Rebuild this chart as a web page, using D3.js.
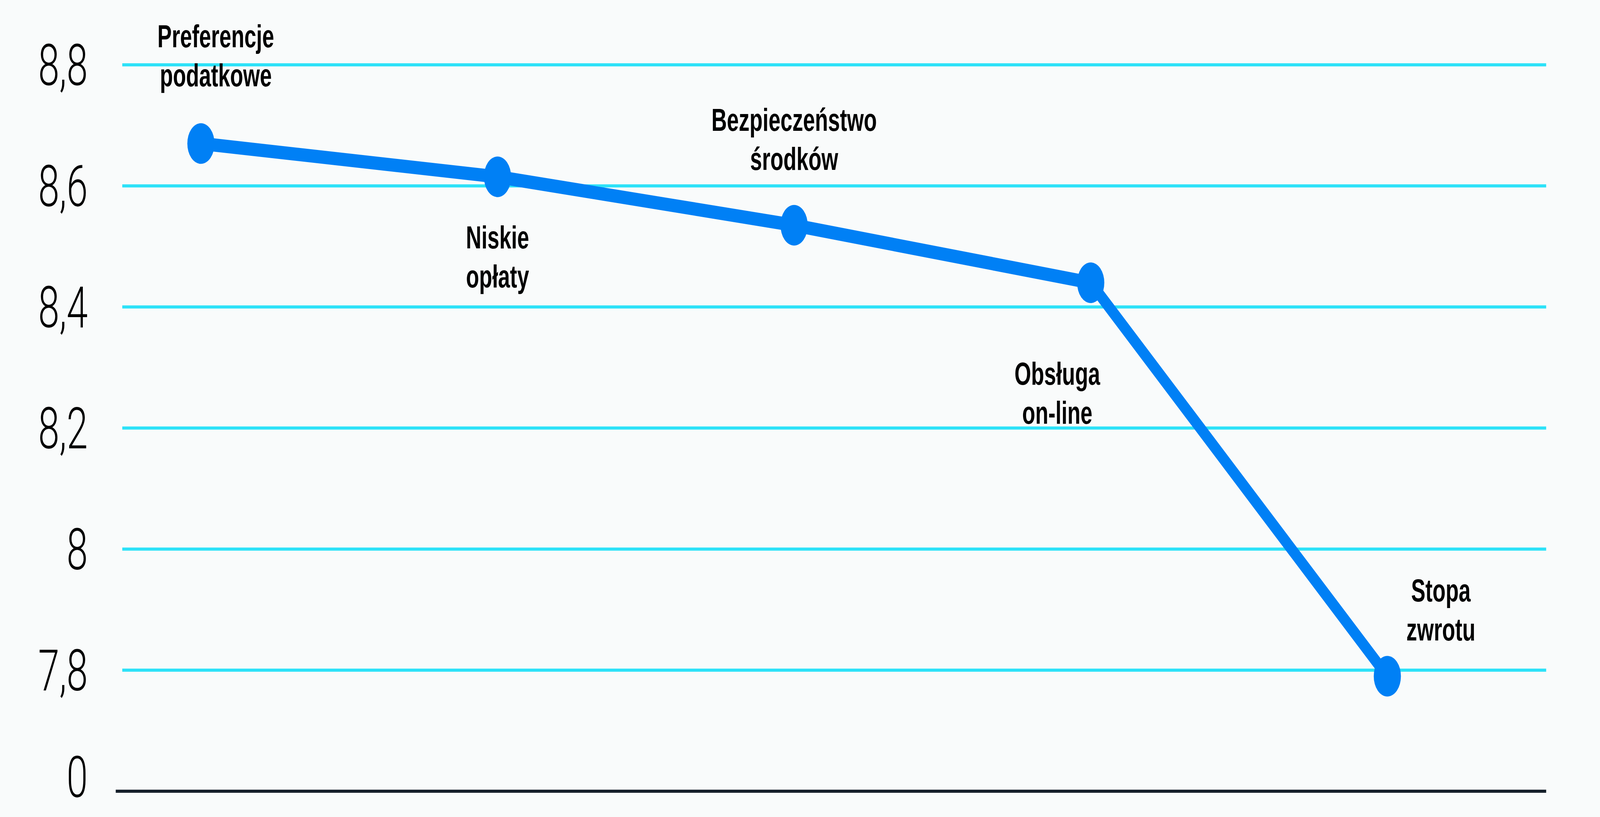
<!DOCTYPE html>
<html>
<head>
<meta charset="utf-8">
<script src="https://cdn.jsdelivr.net/npm/d3@7"></script>
<style>
  html, body { margin: 0; padding: 0; background: #F9FBFB; overflow: hidden; }
  svg { display: block; }
</style>
</head>
<body>
<script>
// ---- data ----
const categories = [
  ["Preferencje", "podatkowe"],
  ["Niskie", "opłaty"],
  ["Bezpieczeństwo", "środków"],
  ["Obsługa", "on-line"],
  ["Stopa", "zwrotu"]
];
const values = [8.67, 8.615, 8.535, 8.44, 7.79];
const tickValues = [7.6, 7.8, 8.0, 8.2, 8.4, 8.6, 8.8];
const tickLabels = ["0", "7,8", "8", "8,2", "8,4", "8,6", "8,8"];

// ---- layout (in reference pixel units; scaled to the window via viewBox) ----
const W = 6124, H = 2092;
const gridLeft = 468, gridRight = 5918, baseLeft = 443;
const yTop = 166, yBottom = 2026;
const xFirst = 769, xLast = 5310;
const labelOffsets = [[57, -246], [0, 183], [0, -242], [-128, 261], [205, -191]];
const lineGap = 100;

const svg = d3.select("body").append("svg")
  .attr("width", window.innerWidth).attr("height", window.innerHeight)
  .attr("viewBox", `0 0 ${W} ${H}`)
  .attr("preserveAspectRatio", "none");

svg.append("rect").attr("width", W).attr("height", H).attr("fill", "#F9FBFB");

const x = d3.scalePoint().domain(d3.range(categories.length)).range([xFirst, xLast]);
const y = d3.scaleLinear().domain([7.6, 8.8]).range([yBottom, yTop]);

// gridlines
svg.append("g").selectAll("line")
  .data(tickValues.slice(1))
  .join("line")
  .attr("x1", gridLeft).attr("x2", gridRight)
  .attr("y1", d => y(d)).attr("y2", d => y(d))
  .attr("stroke", "#2EE2F8").attr("stroke-width", 8);

// baseline
svg.append("line")
  .attr("x1", baseLeft).attr("x2", gridRight)
  .attr("y1", y(tickValues[0])).attr("y2", y(tickValues[0]))
  .attr("stroke", "#16202A").attr("stroke-width", 8);

// y axis labels
const yAxis = d3.axisLeft(y)
  .tickValues(tickValues)
  .tickFormat((d, i) => tickLabels[i])
  .tickSize(0).tickPadding(0);
const ag = svg.append("g").attr("transform", "translate(336,0)").call(yAxis);
ag.select(".domain").remove();
ag.selectAll("text")
  .attr("font-family", "Roboto, 'Helvetica Neue', Lato, sans-serif")
  .attr("font-weight", 300)
  .attr("font-size", 146)
  .attr("fill", "#000")
  .attr("dy", (d, i) => i === 0 ? "0.1em" : "0.35em");

// line
const line = d3.line().x((d, i) => x(i)).y(d => y(d));
svg.append("path")
  .datum(values)
  .attr("d", line)
  .attr("fill", "none")
  .attr("stroke", "#0080F5")
  .attr("stroke-width", 34)
  .attr("stroke-linejoin", "round")
  .attr("stroke-linecap", "round");

// points
svg.append("g").selectAll("circle")
  .data(values)
  .join("circle")
  .attr("cx", (d, i) => x(i))
  .attr("cy", d => y(d))
  .attr("r", 52)
  .attr("fill", "#0080F5");

// category labels
const lg = svg.append("g")
  .attr("font-family", "'Liberation Sans', Arial, Helvetica, sans-serif")
  .attr("font-weight", "bold")
  .attr("font-size", 82)
  .attr("fill", "#000")
  .attr("text-anchor", "middle");
categories.forEach((lines, i) => {
  const t = lg.append("text")
    .attr("x", x(i) + labelOffsets[i][0])
    .attr("y", y(values[i]) + labelOffsets[i][1]);
  lines.forEach((s, k) => {
    t.append("tspan")
      .attr("x", x(i) + labelOffsets[i][0])
      .attr("dy", k === 0 ? 0 : lineGap)
      .text(s);
  });
});
</script>
</body>
</html>
